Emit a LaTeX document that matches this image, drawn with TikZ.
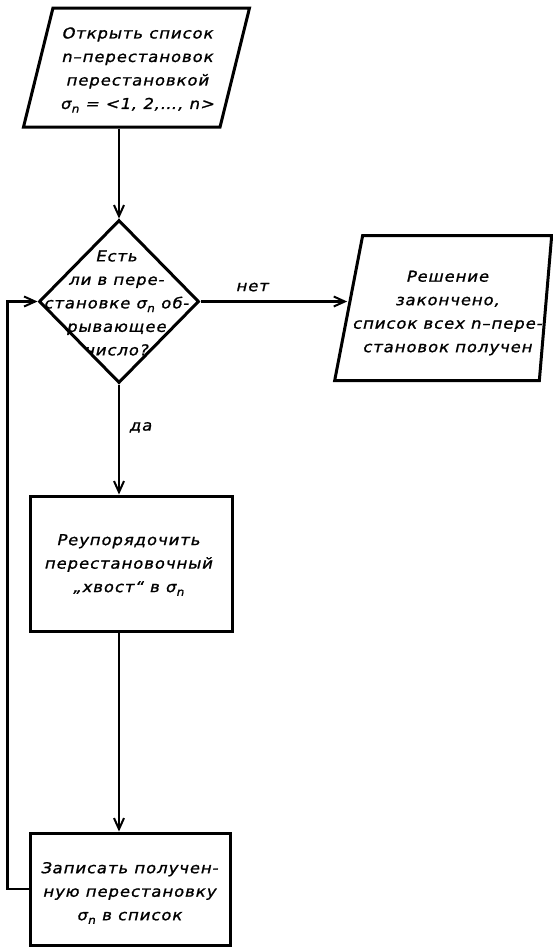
\documentclass[tikz,border=0pt]{standalone}
\usepackage{fontspec}
\newfontfamily\gostfont{DejaVu Sans}[FakeSlant=0.22,FakeStretch=1.1,LetterSpace=6,FakeBold=1.2]
\usetikzlibrary{shapes.geometric,arrows.meta}
% sigma with a lowered index n
\newcommand\sgn{σ\kern0.5pt\raisebox{-0.45ex}{\fontsize{11}{11}\selectfont n}}

\begin{document}
\begin{tikzpicture}[x=1pt,y=-1pt,
  every node/.style={font=\gostfont\fontsize{15}{23.5}\selectfont, inner sep=0pt},
  outline/.style={draw, line width=3pt, inner sep=2pt},
  procbox/.style={outline, rectangle, minimum width=202pt, minimum height=135pt},
  iobox/.style={outline, trapezium, trapezium stretches=true},
  testbox/.style={outline, diamond, minimum width=160pt, minimum height=163pt},
  txt/.style={align=center},
  flow/.style={line width=2.3pt, -{Straight Barb[length=11pt,width=10pt,line width=2pt]}},
  lbl/.style={font=\gostfont\fontsize{15}{16}\selectfont}
]
\useasboundingbox (0,0) rectangle (552,948);

% blocks
\node[iobox, trapezium left angle=80, trapezium right angle=100,
      minimum width=226pt, minimum height=119pt] (start) at (136.5,67.5) {};
\node[txt] (starttext) at (137,70)
  {Открыть список\\n–перестановок\\перестановкой\\\sgn{} = <1, 2,…, n>};

\node[testbox] (dia) at (119,301.5) {};
\node[txt] (diatext) at (116,303)
  {Есть\\ли в пере-\\становке \sgn{} об-\\рывающее\\число?};

\node[iobox, trapezium left angle=81, trapezium right angle=94,
      minimum width=217pt, minimum height=145pt] (done) at (451,308) {};
\node[txt] (donetext) at (447,313)
  {Решение\\закончено,\\список всех n–пере-\\становок получен};

\node[procbox] (fix) at (131,563.5) {};
\node[txt] (fixtext) at (128,565)
  {Реупорядочить\\перестановочный\\„хвост“ в \sgn};

\node[procbox, minimum width=200pt, minimum height=112pt] (save) at (130,889) {};
\node[txt] (savetext) at (129,893)
  {Записать получен-\\ную перестановку\\\sgn{} в список};

% connectors
\draw[flow] (start.south -| dia.north) -- (dia.north);
\draw[flow] (dia.south) -- node[lbl, right=9pt, pos=0.39] (yes) {да} (dia.south |- fix.north);
\draw[flow] (dia.east) -- node[lbl, above=9pt, pos=0.35] (no) {нет} (dia.east -| done.west);
\draw[flow] (dia.south |- fix.south) -- (dia.south |- save.north);
\draw[flow] (save.west) -- ++(-21,0) |- (dia.west);
\end{tikzpicture}
\end{document}
